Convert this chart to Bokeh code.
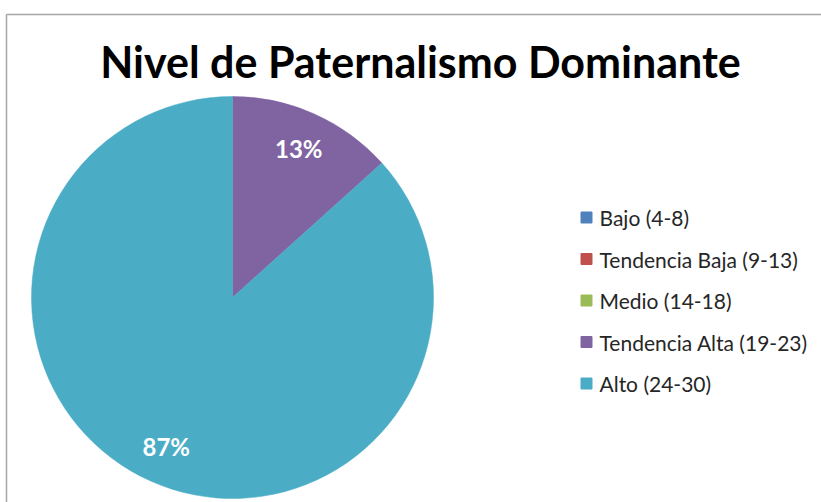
import math
from bokeh.plotting import figure
from bokeh.models import Range1d, ColumnDataSource
from bokeh.core.properties import value
from bokeh.embed import file_html
from bokeh.resources import INLINE

# ---- data ----
title_text = "Nivel de Paternalismo Dominante"
categories = ["Bajo (4-8)", "Tendencia Baja (9-13)", "Medio (14-18)",
              "Tendencia Alta (19-23)", "Alto (24-30)"]
counts = [0, 0, 0, 2, 13]
colors = ["#4F81BD", "#C0504D", "#9BBB59", "#8064A2", "#4BACC6"]

# ---- layout (pixels) ----
W, H = 821, 502
FONT = "Lato"
cx, cy_page, R = 232, 297, 201

def py(page_y):
    return H - page_y

p = figure(width=W, height=H, output_backend="svg", toolbar_location=None,
           x_range=Range1d(0, W), y_range=Range1d(0, H),
           min_border=0, outline_line_color=None)
p.axis.visible = False
p.grid.visible = False
p.background_fill_color = "white"
p.border_fill_color = "white"

# frame lines
p.segment(x0=[6], y0=[py(14)], x1=[W], y1=[py(14)], line_color="#A6A6A6", line_width=1.5)
p.segment(x0=[6], y0=[py(14)], x1=[6], y1=[0], line_color="#A6A6A6", line_width=1.5)

total = sum(counts)
start = math.pi / 2
starts, ends, cols, lx, ly, labels = [], [], [], [], [], []
for c, col in zip(counts, colors):
    if c == 0:
        continue
    frac = c / total
    end = start - 2 * math.pi * frac
    starts.append(start)
    ends.append(end)
    cols.append(col)
    mid = (start + end) / 2
    lx.append(cx + 0.81 * R * math.cos(mid))
    ly.append(py(cy_page) + 0.81 * R * math.sin(mid))
    labels.append(f"{round(frac * 100)}%")
    start = end

src = ColumnDataSource(dict(x=[cx] * len(starts), y=[py(cy_page)] * len(starts),
                            s=starts, e=ends, c=cols))
p.wedge(x="x", y="y", radius=R, radius_units="screen", start_angle="s", end_angle="e",
        direction="clock", fill_color="c", line_color="c", line_width=0.5, source=src)

p.text(x=lx, y=ly, text=labels, text_color="white", text_font=value(FONT),
       text_font_style="bold", text_font_size="24px", text_align="center",
       text_baseline="middle")

# title
p.text(x=[420], y=[py(61)], text=[title_text], text_color="black", text_font=value(FONT),
       text_font_style="bold", text_font_size="43px", text_align="center",
       text_baseline="middle")

# legend
leg_y = [py(217 + 41.5 * i) for i in range(len(categories))]
p.scatter(x=[586] * len(categories), y=leg_y, marker="square", size=11,
          fill_color=colors, line_color=colors)
p.text(x=[599] * len(categories), y=leg_y, text=categories, text_color="#262626",
       text_font=value(FONT), text_font_size="21px", text_align="left",
       text_baseline="middle")

open("out.html", "w").write(file_html(p, INLINE))
